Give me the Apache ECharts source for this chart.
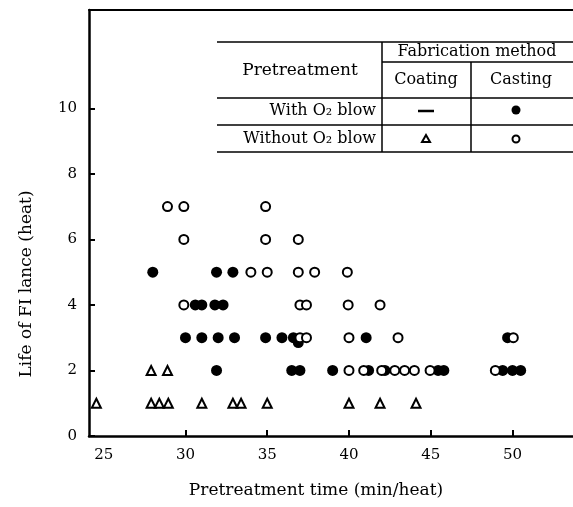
<!DOCTYPE html>
<html>
<head>
<meta charset="utf-8">
<script src="https://cdn.jsdelivr.net/npm/echarts@6/dist/echarts.min.js"></script>
<style>html,body{margin:0;padding:0;background:#fff}#c{width:573px;height:507px}</style>
</head>
<body>
<div id="c"></div>
<script>
// Data: [pretreatment time (min/heat), life (heat)]
var withO2Casting = [
  [28.0,5],[31.9,5],[32.9,5],
  [30.6,4],[31.0,4],[31.8,4],[32.3,4],
  [30.0,3],[31.0,3],[32.0,3],[33.0,3],[34.9,3],[35.9,3],[36.6,3],[41.05,3],[49.7,3],
  [36.9,2.85],
  [31.9,2],[36.5,2],[37.0,2],[39.0,2],[41.2,2],[42.2,2],[45.45,2],[45.8,2],[49.4,2],[50.0,2],[50.5,2]
];
var withoutO2Casting = [
  [28.9,7],[29.9,7],[34.9,7],
  [29.9,6],[34.9,6],[36.9,6],
  [34.0,5],[35.0,5],[36.9,5],[37.9,5],[39.9,5],
  [29.9,4],[37.0,4],[37.4,4],[39.95,4],[41.9,4],
  [37.0,3],[37.4,3],[40.0,3],[43.0,3],[50.05,3],
  [40.0,2],[40.9,2],[42.0,2],[42.8,2],[43.4,2],[44.0,2],[44.96,2],[48.95,2]
];
var withoutO2Coating = [
  [27.9,2],[28.9,2],
  [24.55,1],[27.9,1],[28.4,1],[28.95,1],[31.0,1],[32.9,1],[33.4,1],[35.0,1],[40.0,1],[41.9,1],[44.1,1]
];
var xTicks = [25, 30, 35, 40, 45, 50];
var yTicks = [0, 2, 4, 6, 8, 10];
var xName = 'Pretreatment time (min/heat)';
var yName = 'Life of FI lance (heat)';
var tableHead = ['Pretreatment', 'Fabrication method', 'Coating', 'Casting'];
var tableRows = ['With O\u2082 blow', 'Without O\u2082 blow'];

var FONT = 'DejaVu Serif';
var INK = '#000';
var chart = echarts.init(document.getElementById('c'), null, {renderer: 'canvas'});

function hline(x1, x2, y, w) {
  return {type: 'line', shape: {x1: x1, y1: y, x2: x2, y2: y}, style: {stroke: INK, lineWidth: w || 1.5}, silent: true};
}
function vline(x, y1, y2, w) {
  return {type: 'line', shape: {x1: x, y1: y1, x2: x, y2: y2}, style: {stroke: INK, lineWidth: w || 1.5}, silent: true};
}
function txt(s, x, y, align, size) {
  return {type: 'text', x: x, y: y, style: {text: s, font: (size || 16) + 'px "' + FONT + '"', fill: INK, align: align || 'center', verticalAlign: 'middle'}, silent: true};
}

var graphics = [
  hline(217, 573, 42), hline(382, 573, 62), hline(217, 573, 98), hline(217, 573, 125), hline(217, 573, 152),
  vline(382, 42, 152), vline(471, 62, 152),
  txt(tableHead[0], 300, 71, 'center', 17), txt(tableHead[1], 477, 52, 'center', 16),
  txt(tableHead[2], 426, 80, 'center', 16), txt(tableHead[3], 521, 80, 'center', 16),
  txt(tableRows[0], 376, 111, 'right', 16), txt(tableRows[1], 376, 139, 'right', 16),
  hline(418, 434, 111, 2.5),
  {type: 'circle', shape: {cx: 516, cy: 110, r: 4.5}, style: {fill: INK}, silent: true},
  {type: 'polygon', shape: {points: [[426, 135], [422, 142], [430, 142]]}, style: {fill: '#fff', stroke: INK, lineWidth: 2}, silent: true},
  {type: 'circle', shape: {cx: 516, cy: 139, r: 3.5}, style: {fill: '#fff', stroke: INK, lineWidth: 2}, silent: true},
  {type: 'text', x: 27, y: 284, rotation: Math.PI / 2,
   style: {text: yName, font: '17px "' + FONT + '"', fill: INK, align: 'center', verticalAlign: 'middle'}, silent: true}
];

var option = {
  backgroundColor: '#fff',
  animation: false,
  grid: {left: 89, right: 0, top: 10, bottom: 71, containLabel: false},
  xAxis: [{
    type: 'value', min: 24.1, max: 53.7, position: 'bottom',
    name: xName, nameLocation: 'middle', nameGap: 46,
    nameTextStyle: {fontFamily: FONT, fontSize: 17, color: INK, padding: [0, 30, 0, 0]},
    axisLine: {show: true, lineStyle: {color: INK, width: 2.5}},
    axisTick: {show: true, inside: true, length: 6, lineStyle: {color: INK, width: 2}, customValues: [30, 35, 40, 45, 50]},
    axisLabel: {fontFamily: FONT, fontSize: 15, color: INK, margin: 12, customValues: xTicks},
    splitLine: {show: false}
  }, {
    type: 'value', min: 24.1, max: 53.7, position: 'top',
    axisLine: {show: true, lineStyle: {color: INK, width: 2}},
    axisTick: {show: false}, axisLabel: {show: false}, splitLine: {show: false}
  }],
  yAxis: {
    type: 'value', min: 0, max: 13,
    axisLine: {show: true, lineStyle: {color: INK, width: 2.5}},
    axisTick: {show: true, inside: true, length: 6, lineStyle: {color: INK, width: 2}, customValues: yTicks},
    axisLabel: {fontFamily: FONT, fontSize: 15, color: INK, margin: 12, customValues: yTicks},
    splitLine: {show: false}
  },
  graphic: graphics,
  series: [
    {name: 'With O2 blow / Casting', type: 'scatter', data: withO2Casting, symbol: 'circle', symbolSize: 11,
     itemStyle: {color: INK, opacity: 1}, z: 3},
    {name: 'Without O2 blow / Casting', type: 'scatter', data: withoutO2Casting, symbol: 'circle', symbolSize: 9,
     itemStyle: {color: '#fff', borderColor: INK, borderWidth: 2, opacity: 1}, z: 4},
    {name: 'Without O2 blow / Coating', type: 'scatter', data: withoutO2Coating, symbol: 'triangle', symbolSize: 9,
     itemStyle: {color: '#fff', borderColor: INK, borderWidth: 2, opacity: 1}, z: 4}
  ]
};
chart.setOption(option);
</script>
</body>
</html>
